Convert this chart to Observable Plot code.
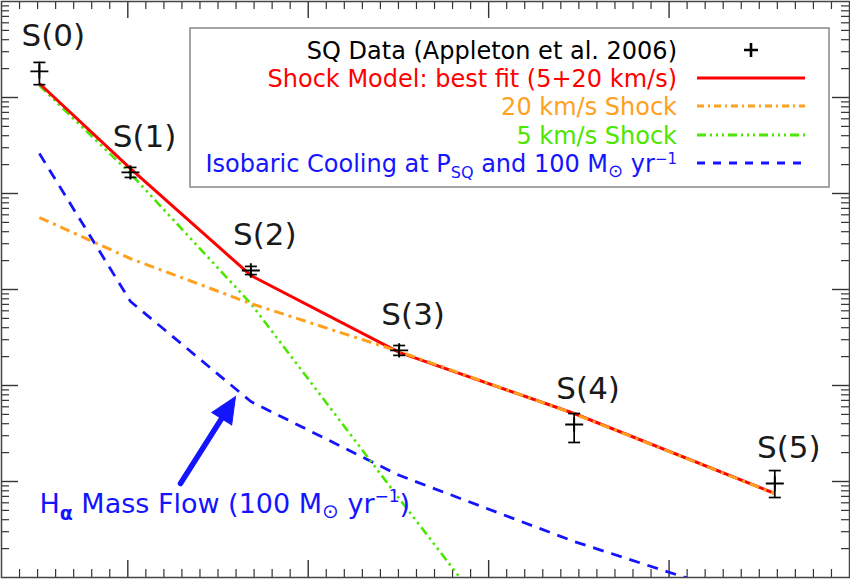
<!DOCTYPE html>
<html><head><meta charset="utf-8">
<script src="https://cdn.jsdelivr.net/npm/d3@7"></script>
<script src="https://cdn.jsdelivr.net/npm/@observablehq/plot@0.6"></script>
<style>
body{margin:0;background:#fff}
#chart{width:850px;height:579px}
</style>
</head><body><div id="chart"></div>
<script>
// ---- data ----
const levels   = ["S(0)","S(1)","S(2)","S(3)","S(4)","S(5)"];
const energyK  = [510, 1015, 1682, 2504, 3474, 4586];
const sqData   = [1.87e19, 1.66e18, 1.58e17, 2.32e16, 3.93e15, 9.53e14];
const sqHigh   = [2.32e19, 1.87e18, 1.74e17, 2.61e16, 5.11e15, 1.30e15];
const sqLow    = [1.36e19, 1.47e18, 1.43e17, 2.06e16, 2.55e15, 6.81e14];
const bestFit  = [1.40e19, 1.82e18, 1.40e17, 2.21e16, 5.11e15, 7.50e14];
const shock20  = [5.62e17, 2.10e17, 7.14e16, 2.26e16, 5.07e15, 7.46e14];
const shock5   = [1.33e19, 1.61e18, 7.14e16, 6.65e14, 2.81e12, 5.4e9];
const isobaric = [2.61e18, 7.50e16, 6.81e15, 1.16e15, 2.37e14, 4.99e13];

const xDomain = [300, 5000];
const yDomain = [1e14, 1e20];
const xMajorTicks = [1000, 2000, 3000, 4000];
const xMinorTicks = d3.range(400, 5000, 100).filter(v => v % 1000 !== 0);
const yMajorTicks = [1e15, 1e16, 1e17, 1e18, 1e19];
const yMinorTicks = d3.range(14, 20).flatMap(e => d3.range(2, 10).map(m => m * 10 ** e));

// annotation
const annotText = "Hα Mass Flow (100 M⊙ yr−1)";
const annotAt = {E: 510, N: 5.75e14};
const arrowFrom = {E: 1292, N: 9.53e14};
const arrowTo = {E: 1597, N: 7.67e15};

// legend
const legendLabels = [
  "SQ Data (Appleton et al. 2006)",
  "Shock Model: best fit (5+20 km/s)",
  "20 km/s Shock",
  "5 km/s Shock",
  "Isobaric Cooling at P_SQ and 100 M_⊙ yr^−1"
];

// ---- styles ----
const C = {data:"#000", red:"#ff0000", orange:"#ffa01e", green:"#4ce600", blue:"#1414ff", text:"#1a1a1a"};
const dash = {orange:"10,5,3,5", green:"9,4,2.5,4,2.5,4,2.5,4", blue:"11,8"};
const FONT = "'DejaVu Sans', sans-serif";

const pts = levels.map((s, i) => ({s, E: energyK[i], N: sqData[i], hi: sqHigh[i], lo: sqLow[i]}));
const series = (arr) => energyK.map((E, i) => ({E, N: arr[i]}));

const plusSym = {draw(ctx, size){ const r = Math.sqrt(size/Math.PI); ctx.moveTo(-r,0); ctx.lineTo(r,0); ctx.moveTo(0,-0.8*r); ctx.lineTo(0,0.8*r);} };
const barSym = {draw(ctx, size){ const r = Math.sqrt(size/Math.PI); ctx.moveTo(-r,0); ctx.lineTo(r,0);} };
const headSym = {draw(ctx, size){ const r = Math.sqrt(size/Math.PI); ctx.moveTo(0,0); ctx.lineTo(-0.45*r, r); ctx.lineTo(0.45*r, r); ctx.closePath();} };

const W = 850, H = 579, mT = 1, mB = 2, mL = 1, mR = 1;
const fh = H - mT - mB, fw = W - mL - mR;
const majL = 17, minL = 8;

const lineOpts = {x: "E", y: "N", clip: true, strokeLinecap: "butt", strokeLinejoin: "miter"};

const chart = Plot.plot({
  width: W, height: H,
  marginTop: mT, marginBottom: mB, marginLeft: mL, marginRight: mR,
  style: {background: "#fff", fontFamily: FONT},
  x: {domain: xDomain, axis: null},
  y: {type: "log", domain: yDomain, axis: null},
  marks: [
    // ticks (inward)
    Plot.tickX(xMinorTicks, {x: d => d, insetTop: fh - minL, stroke: "#333", strokeWidth: 1.2}),
    Plot.tickX(xMinorTicks, {x: d => d, insetBottom: fh - minL, stroke: "#333", strokeWidth: 1.2}),
    Plot.tickX(xMajorTicks, {x: d => d, insetTop: fh - majL, stroke: "#333", strokeWidth: 1.4}),
    Plot.tickX(xMajorTicks, {x: d => d, insetBottom: fh - majL, stroke: "#333", strokeWidth: 1.4}),
    Plot.tickY(yMinorTicks, {y: d => d, insetRight: fw - minL, stroke: "#333", strokeWidth: 1.2}),
    Plot.tickY(yMinorTicks, {y: d => d, insetLeft: fw - minL, stroke: "#333", strokeWidth: 1.2}),
    Plot.tickY(yMajorTicks, {y: d => d, insetRight: fw - majL, stroke: "#333", strokeWidth: 1.4}),
    Plot.tickY(yMajorTicks, {y: d => d, insetLeft: fw - majL, stroke: "#333", strokeWidth: 1.4}),
    // model lines
    Plot.line(series(isobaric), {...lineOpts, stroke: C.blue, strokeWidth: 2.8, strokeDasharray: dash.blue}),
    Plot.line(series(shock5), {...lineOpts, stroke: C.green, strokeWidth: 2.6, strokeDasharray: dash.green}),
    Plot.line(series(bestFit), {...lineOpts, stroke: C.red, strokeWidth: 3}),
    Plot.line(series(shock20), {...lineOpts, stroke: C.orange, strokeWidth: 3, strokeDasharray: dash.orange}),
    // data with error bars
    Plot.ruleX(pts, {x: "E", y1: "lo", y2: "hi", stroke: C.data, strokeWidth: 1.7}),
    Plot.dot(pts, {x: "E", y: "hi", symbol: barSym, r: 6, stroke: C.data, strokeWidth: 1.7}),
    Plot.dot(pts, {x: "E", y: "lo", symbol: barSym, r: 6, stroke: C.data, strokeWidth: 1.7}),
    Plot.dot(pts, {x: "E", y: "N", symbol: plusSym, r: 9, stroke: C.data, strokeWidth: 1.9}),
    Plot.text(pts, {x: "E", y: "N", text: "s", dx: 14, dy: -35, fontSize: 31, fill: C.text}),
    // annotation arrow + text
    Plot.arrow([0], {x1: () => arrowFrom.E, y1: () => arrowFrom.N, x2: () => arrowTo.E, y2: () => arrowTo.N,
                     headLength: 0, insetEnd: 20, stroke: C.blue, strokeWidth: 5.5}),
    Plot.dot([0], {x: () => arrowTo.E, y: () => arrowTo.N, symbol: headSym, r: 26, fill: C.blue, stroke: C.blue, strokeWidth: 1, rotate: 32}),
    Plot.text([annotText], {x: () => annotAt.E, y: () => annotAt.N, text: d => d, textAnchor: "start", fontSize: 27, fill: C.blue, className: "annot"}),
    Plot.frame({stroke: "#444", strokeWidth: 1.5})
  ]
});
document.getElementById("chart").appendChild(chart);

const svg = d3.select(chart);
// rich annotation text
svg.select("g.annot text").html(
  'H<tspan dy="7" font-size="19" font-weight="bold">α</tspan><tspan dy="-7"> Mass Flow (100 M</tspan><tspan dy="5" font-size="20">⊙</tspan><tspan dy="-5"> yr</tspan><tspan dy="-11" font-size="17">−1</tspan><tspan dy="11">)</tspan>'
);

// legend
const lg = svg.append("g").attr("font-family", FONT).attr("font-size", 24);
lg.append("rect").attr("x", 190).attr("y", 28).attr("width", 639).attr("height", 159)
  .attr("fill", "#fff").attr("stroke", "#888").attr("stroke-width", 1.5);
const rowY = [50, 78, 106, 135, 163];
const rowColor = [C.data, C.red, C.orange, C.green, C.blue];
const tx = 677;
legendLabels.forEach((lab, i) => {
  const t = lg.append("text").attr("x", tx).attr("y", rowY[i]).attr("dy", "0.36em")
    .attr("text-anchor", "end").attr("fill", rowColor[i]);
  if (i === 4) {
    t.html('Isobaric Cooling at P<tspan dy="6" font-size="16">SQ</tspan><tspan dy="-6"> and 100 M</tspan><tspan dy="5" font-size="18">⊙</tspan><tspan dy="-5"> yr</tspan><tspan dy="-8" font-size="15">−1</tspan>');
  } else t.text(lab);
});
const lx1 = 697, lx2 = 805;
lg.append("path").attr("d", `M${751-7},${rowY[0]}h14M751,${rowY[0]-7}v14`).attr("stroke", C.data).attr("stroke-width", 2.6);
lg.append("line").attr("x1", lx1).attr("x2", lx2).attr("y1", rowY[1]).attr("y2", rowY[1]).attr("stroke", C.red).attr("stroke-width", 3);
lg.append("line").attr("x1", lx1).attr("x2", lx2).attr("y1", rowY[2]).attr("y2", rowY[2]).attr("stroke", C.orange).attr("stroke-width", 2.8).attr("stroke-dasharray", "7,4,2,4");
lg.append("line").attr("x1", lx1).attr("x2", lx2).attr("y1", rowY[3]).attr("y2", rowY[3]).attr("stroke", C.green).attr("stroke-width", 2.8).attr("stroke-dasharray", "9,4,2,4,2,4,2,4");
lg.append("line").attr("x1", lx1).attr("x2", lx2).attr("y1", rowY[4]).attr("y2", rowY[4]).attr("stroke", C.blue).attr("stroke-width", 2.8).attr("stroke-dasharray", "8,8");
</script>
</body></html>
